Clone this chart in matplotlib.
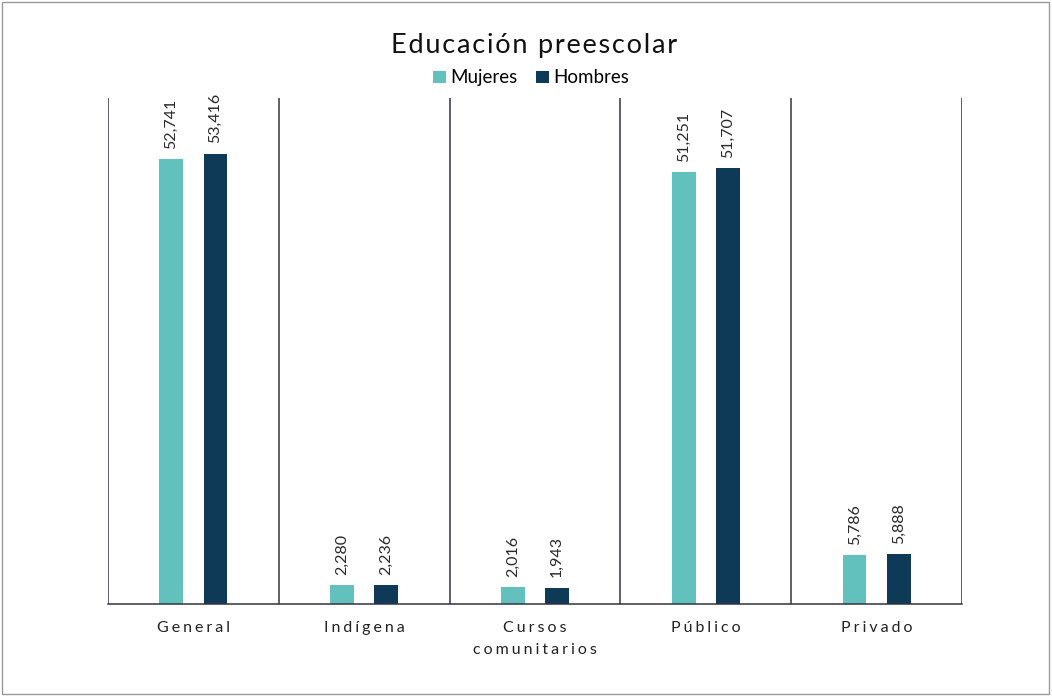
import numpy as np
import matplotlib.pyplot as plt
from matplotlib.patches import Rectangle

plt.rcParams['font.family'] = ['Lato', 'DejaVu Sans']

# -------------------------------------------------
# Data
# -------------------------------------------------
categories = ["General", "Indígena", "Cursos\ncomunitarios", "Público", "Privado"]
mujeres = [52741, 2280, 2016, 51251, 5786]
hombres = [53416, 2236, 1943, 51707, 5888]
series_names = ["Mujeres", "Hombres"]
colors = ["#62c0bd", "#0f3a57"]
title = "Educación preescolar"


def _spaced(s, sep="\u2009"):
    """Loose letter spacing, line by line."""
    return "\n".join(sep.join(line) for line in s.split("\n"))


# -------------------------------------------------
# Plot
# -------------------------------------------------
fig = plt.figure(figsize=(10.52, 6.96), dpi=100)
ax = fig.add_axes([0.1027, 0.1322, 0.8117, 0.7270])

x = np.arange(len(categories))
offset = 0.129
width = 0.14

for vals, name, col, off in zip([mujeres, hombres], series_names, colors, [-offset, offset]):
    bars = ax.bar(x + off, vals, width=width, color=col, label=name)
    for b, v in zip(bars, vals):
        ax.text(b.get_x() + b.get_width() / 2, v + 1200, f"{v:,}",
                rotation=90, ha="center", va="bottom", fontsize=11.5,
                color="#2a2a2a")

# category separators
for b in np.arange(len(categories) + 1) - 0.5:
    ax.axvline(b, color="#333340", linewidth=1.1)

ax.set_xlim(-0.5, len(categories) - 0.5)
ax.set_ylim(0, 60000)
ax.set_yticks([])
ax.set_xticks(x)
ax.set_xticklabels([_spaced(c, "\u2009\u200a") for c in categories], fontsize=11.5,
                   color="#222222", linespacing=1.75)
ax.tick_params(axis="x", length=0, pad=12)
for s in ["top", "left", "right"]:
    ax.spines[s].set_visible(False)
ax.spines["bottom"].set_color("#333340")
ax.spines["bottom"].set_linewidth(1.1)

fig.text(0.508, 0.935, _spaced(title, "\u200a"), ha="center", va="center",
         fontsize=19.5, color="#111111")
fig.legend(loc="center", bbox_to_anchor=(0.505, 0.888), ncol=2, frameon=False,
           fontsize=13.5, handlelength=0.65, handleheight=0.65, handletextpad=0.25,
           columnspacing=1.0, borderaxespad=0)

# figure border
fig.patches.append(Rectangle((0.002, 0.003), 0.995, 0.994, transform=fig.transFigure,
                             fill=False, edgecolor="#999999", linewidth=1))

fig.savefig("out.png", dpi=100)
